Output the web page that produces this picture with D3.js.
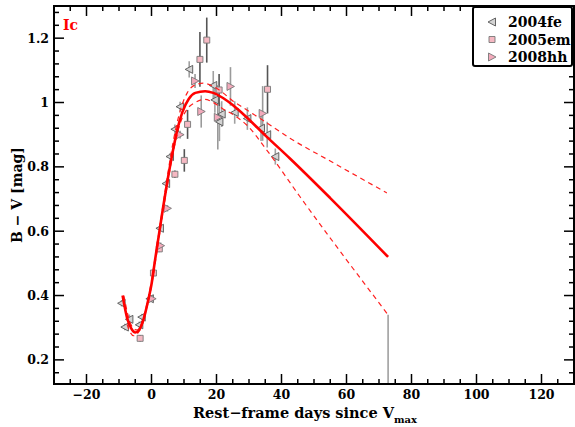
<!DOCTYPE html>
<html><head><meta charset="utf-8">
<script src="https://cdn.jsdelivr.net/npm/d3@7"></script>
<style>body{margin:0;background:#fff}svg{display:block}</style>
</head><body>
<svg id="c" width="575" height="427"></svg>
<script>
// data: [day, B-V, error]
const sn2004fe = [[-9.2,0.376,0.01],[-8.2,0.302,0.01],[-6.8,0.326,0.015],[-3.75,0.309,0.01],[-3.0,0.333,0.01],[-0.5,0.39,0.01],[2.6,0.609,0.01],[4.5,0.748,0.01],[5.7,0.832,0.01],[7.2,0.917,0.015],[8.8,0.987,0.015],[11.6,1.103,0.025],[19.0,1.053,0.045],[19.5,1.008,0.04],[20.9,0.94,0.06],[21.6,0.964,0.04],[25.6,0.969,0.035],[29.5,0.95,0.035],[33.7,0.92,0.04],[35.6,0.9,0.04],[38.1,0.832,0.025],[72.8,0.02,0.32]];
const sn2005em = [[-3.5,0.267,0.01],[0.6,0.47,0.01],[2.4,0.545,0.01],[7.2,0.777,0.012],[10.1,0.82,0.035],[11.1,0.932,0.045],[14.9,1.134,0.085],[17.0,1.194,0.07],[20.8,1.039,0.05],[35.7,1.041,0.075]];
const sn2008hh = [[0.2,0.39,0.01],[2.8,0.555,0.01],[4.9,0.671,0.01],[8.8,0.9,0.012],[13.4,1.067,0.022],[15.3,0.972,0.05],[20.4,0.954,0.1],[24.3,1.05,0.06],[34.2,0.966,0.085]];
const fitMean = [[-8.9,0.40],[-7.5,0.33],[-6.2,0.297],[-5,0.285],[-3.8,0.293],[-2.5,0.324],[-1,0.386],[0,0.435],[1.1,0.511],[2.3,0.59],[3.6,0.676],[5,0.762],[6.5,0.845],[8,0.918],[9.5,0.97],[11.5,1.012],[13.5,1.03],[16.5,1.035],[19,1.03],[22,1.014],[25,0.992],[28,0.966],[35.4,0.894],[42.6,0.826],[55,0.703],[72.8,0.52]];
const fitUpper = [[-8.5,0.40],[-7,0.33],[-5.5,0.297],[-4.5,0.293],[-3,0.315],[-1.5,0.37],[0,0.445],[1.5,0.545],[3,0.645],[4.5,0.745],[6,0.84],[7.5,0.92],[9,0.98],[11,1.03],[13.5,1.055],[16,1.06],[19,1.05],[22,1.03],[25,1.005],[28.2,0.984],[35,0.94],[42.6,0.889],[55,0.818],[72.4,0.719]];
const fitLower = [[-7.5,0.31],[-6.5,0.285],[-5.5,0.275],[-4.5,0.28],[-3,0.305],[-1.5,0.36],[0,0.43],[1.5,0.525],[3,0.625],[4.5,0.72],[6,0.81],[7.5,0.885],[9,0.94],[11,0.98],[13.5,1.0],[16.5,1.01],[19,1.0],[22,0.98],[25.5,0.96],[29.3,0.93],[35.4,0.853],[45.7,0.707],[72.8,0.34]];
const xTicks = [-20,0,20,40,60,80,100,120];
const yTicks = [0.2,0.4,0.6,0.8,1.0,1.2];
const legendNames = ["2004fe","2005em","2008hh"];

const svg = d3.select("#c");
const L=54, R=574, T=6, B=384;
const x = d3.scaleLinear().domain([-30,130]).range([L,R]);
const y = d3.scaleLinear().domain([0.125,1.3]).range([B,T]);
const serif = "'DejaVu Serif', 'Liberation Serif', serif";

svg.append("defs").append("clipPath").attr("id","clip")
  .append("rect").attr("x",L).attr("y",T).attr("width",R-L).attr("height",B-T);

const plot = svg.append("g").attr("clip-path","url(#clip)");

// error bars
const sets = [
  {d:sn2004fe, bar:"#a0a0a0", sym:"left", fill:"#d4d4d4", stroke:"#555"},
  {d:sn2005em, bar:"#555", sym:"square", fill:"#f5b8c2", stroke:"#777"},
  {d:sn2008hh, bar:"#9a9a9a", sym:"right", fill:"#f3aabb", stroke:"#777"}
];
sets.forEach(s=>{
  plot.append("g").selectAll("line").data(s.d).join("line")
    .attr("x1",d=>x(d[0])).attr("x2",d=>x(d[0]))
    .attr("y1",d=>y(d[1]-d[2])).attr("y2",d=>y(d[1]+d[2]))
    .attr("stroke",s.bar).attr("stroke-width",1.6);
});
function symPath(t){
  if(t==="left") return "M-4,0L3.5,-4L3.5,4Z";
  if(t==="right") return "M4,0L-3.5,-4L-3.5,4Z";
  return "M-3,-3H3V3H-3Z";
}
sets.forEach(s=>{
  plot.append("g").selectAll("path").data(s.d).join("path")
    .attr("transform",d=>`translate(${x(d[0])},${y(d[1])})`)
    .attr("d",symPath(s.sym)).attr("fill",s.fill).attr("stroke",s.stroke).attr("stroke-width",0.9);
});

// fits
const line = d3.line().x(d=>x(d[0])).y(d=>y(d[1])).curve(d3.curveMonotoneX);
plot.append("path").attr("d",line(fitUpper)).attr("fill","none").attr("stroke","#ff2020").attr("stroke-width",1.2).attr("stroke-dasharray","5,4");
plot.append("path").attr("d",line(fitLower)).attr("fill","none").attr("stroke","#ff2020").attr("stroke-width",1.2).attr("stroke-dasharray","5,4");
plot.append("path").attr("d",line(fitMean)).attr("fill","none").attr("stroke","#ff0000").attr("stroke-width",2.6);

// axes frame & ticks
const ax = svg.append("g").attr("stroke","#000");
const xMinor = d3.range(-25,131,5);
const yMinor = d3.range(0,34).map(i=>+(0.16+i*0.04).toFixed(2)).filter(v=>v<=1.3);
xMinor.forEach(v=>{
  const major = xTicks.includes(v);
  const len = major?10:5;
  ax.append("line").attr("x1",x(v)).attr("x2",x(v)).attr("y1",B).attr("y2",B-len).attr("stroke-width",1.5);
  ax.append("line").attr("x1",x(v)).attr("x2",x(v)).attr("y1",T).attr("y2",T+len).attr("stroke-width",1.5);
});
yMinor.forEach(v=>{
  const major = yTicks.some(t=>Math.abs(t-v)<1e-6);
  const len = major?10:5;
  ax.append("line").attr("x1",L).attr("x2",L+len).attr("y1",y(v)).attr("y2",y(v)).attr("stroke-width",1.5);
  ax.append("line").attr("x1",R).attr("x2",R-len).attr("y1",y(v)).attr("y2",y(v)).attr("stroke-width",1.5);
});
ax.append("rect").attr("x",L).attr("y",T).attr("width",R-L).attr("height",B-T).attr("fill","none").attr("stroke-width",2);

// tick labels
svg.append("g").selectAll("text").data(xTicks).join("text")
  .attr("x",d=>x(d)).attr("y",399).attr("text-anchor","middle")
  .attr("font-family",serif).attr("font-weight","bold").attr("font-size",12.5)
  .text(d=>d<0?"\u2212"+Math.abs(d):d);
svg.append("g").selectAll("text").data(yTicks).join("text")
  .attr("x",49).attr("y",d=>y(d)+4.5).attr("text-anchor","end")
  .attr("font-family",serif).attr("font-weight","bold").attr("font-size",12.5)
  .text(d=>d3.format("~g")(d));

// titles
const xt = svg.append("text").attr("x",305).attr("y",418).attr("text-anchor","middle")
  .attr("font-family",serif).attr("font-weight","bold").attr("font-size",14.5);
xt.append("tspan").text("Rest\u2212frame days since V");
xt.append("tspan").attr("dy",5).attr("font-size",10).text("max");
svg.append("text").attr("transform","translate(22,195) rotate(-90)").attr("text-anchor","middle")
  .attr("font-family",serif).attr("font-weight","bold").attr("font-size",14)
  .text("B \u2212 V [mag]");
svg.append("text").attr("x",63).attr("y",30).attr("fill","#ff0000")
  .attr("font-family",serif).attr("font-weight","bold").attr("font-size",14).text("Ic");

// legend
const lg = svg.append("g");
lg.append("rect").attr("x",473).attr("y",7).attr("width",99).attr("height",59).attr("rx",2)
  .attr("fill","#fff").attr("stroke","#000").attr("stroke-width",2);
legendNames.forEach((n,i)=>{
  const s = sets[i], yy = 22+i*17.5;
  lg.append("path").attr("transform",`translate(492,${yy})`).attr("d",symPath(s.sym))
    .attr("fill",s.fill).attr("stroke",s.stroke).attr("stroke-width",0.9);
  lg.append("text").attr("x",508).attr("y",yy+5).attr("font-family",serif).attr("font-weight","bold")
    .attr("font-size",14).text(n);
});
</script>
</body></html>
